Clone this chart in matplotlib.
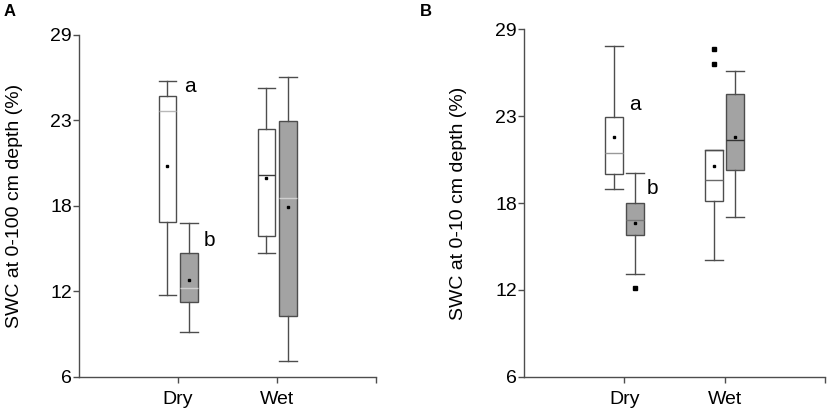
import numpy as np
import matplotlib
matplotlib.use("Agg")
import matplotlib.pyplot as plt

plt.rcParams['font.family'] = ['Liberation Sans', 'DejaVu Sans']

categories = ["Dry", "Wet"]
ytick_labels = ["6", "12", "18", "23", "29"]

# Panel A: SWC 0-100 cm  (order: whislo, q1, med, q3, whishi, mean)
a_white = {"Dry": [11.5, 16.4, 23.9, 24.9, 25.9, 20.2],
           "Wet": [14.3, 15.5, 19.55, 22.7, 25.4, 19.35]}
a_gray = {"Dry": [9.0, 11.05, 12.0, 14.3, 16.35, 12.5],
          "Wet": [7.05, 10.1, 18.0, 23.2, 26.2, 17.45]}
a_white_fliers = {"Dry": [], "Wet": []}
a_gray_fliers = {"Dry": [], "Wet": []}

# Panel B: SWC 0-10 cm
b_white = {"Dry": [18.4, 19.45, 20.8, 23.2, 27.9, 21.9],
           "Wet": [13.7, 17.65, 19.0, 21.0, 21.0, 19.95]}
b_gray = {"Dry": [12.8, 15.35, 16.35, 17.5, 19.5, 16.15],
          "Wet": [16.55, 19.7, 21.65, 24.7, 26.25, 21.9]}
b_white_fliers = {"Dry": [], "Wet": [27.7, 26.7]}
b_gray_fliers = {"Dry": [11.85], "Wet": []}

letters_a = [("a", 1.12, 25.5), ("b", 1.32, 15.2)]
letters_b = [("a", 1.11, 24.0), ("b", 1.28, 18.45)]

# median line colours (white boxes, gray boxes) per category
med_a = (["#b8b8b8", "#3a3a3a"], ["#cfcfcf", "#cfcfcf"])
med_b = (["#999999", "#6a6a6a"], ["#777777", "#333333"])

EDGE = "#4d4d4d"


def stats(d, fl):
    out = []
    for c in categories:
        lo, q1, med, q3, hi, mean = d[c]
        out.append(dict(whislo=lo, q1=q1, med=med, q3=q3, whishi=hi,
                        mean=mean, fliers=fl[c], label=c))
    return out


def draw(ax, white, gray, wf, gf, letters, ylabel, medcols):
    base = np.arange(1, len(categories) + 1)
    w = 0.18
    for st, off, fc, medc in [(stats(white, wf), -0.107, "white", medcols[0]),
                              (stats(gray, gf), 0.107, "#a3a3a3", medcols[1])]:
        res = ax.bxp(st, positions=base + off, widths=w, showmeans=True,
                     patch_artist=True, showfliers=True,
                     boxprops=dict(facecolor=fc, edgecolor=EDGE, linewidth=1.0),
                     whiskerprops=dict(color=EDGE, linewidth=1.0),
                     capprops=dict(color=EDGE, linewidth=1.0),
                     capwidths=w,
                     medianprops=dict(color="#888888", linewidth=1.0),
                     meanprops=dict(marker="s", markersize=2.0,
                                    markerfacecolor="black",
                                    markeredgecolor="black"),
                     flierprops=dict(marker="s", markersize=3.0,
                                     markerfacecolor="black",
                                     markeredgecolor="black",
                                     linestyle="none"))
        for line, col in zip(res["medians"], medc):
            line.set_color(col)
    for t, x, y in letters:
        ax.text(x, y, t, fontsize=15, ha="center", va="center")
    ax.set_xlim(0, 3)
    ax.set_ylim(6, 29)
    ax.set_yticks(np.linspace(6, 29, 5))
    ax.set_yticklabels(ytick_labels)
    ax.set_xticks([1, 2, 3])
    ax.set_xticklabels(categories + [""])
    ax.spines["top"].set_visible(False)
    ax.spines["right"].set_visible(False)
    for s in ["left", "bottom"]:
        ax.spines[s].set_color(EDGE)
        ax.spines[s].set_linewidth(1.0)
    ax.tick_params(axis="both", color=EDGE, length=4, width=1.0,
                   labelsize=14)
    ax.tick_params(axis="x", pad=6)
    ax.tick_params(axis="y", pad=1)
    ax.set_ylabel(ylabel, fontsize=14)


fig = plt.figure(figsize=(8.29, 4.13), dpi=100)
axA = fig.add_axes([0.0953, 0.0879, 0.3583, 0.8274])
axB = fig.add_axes([0.632, 0.0879, 0.3632, 0.841])

draw(axA, a_white, a_gray, a_white_fliers, a_gray_fliers, letters_a,
     "SWC at 0-100 cm depth (%)", med_a)
draw(axB, b_white, b_gray, b_white_fliers, b_gray_fliers, letters_b,
     "SWC at 0-10 cm depth (%)", med_b)
axA.yaxis.set_label_coords(-0.19, 0.5)
axB.yaxis.set_label_coords(-0.19, 0.5)

fig.text(0.004, 0.99, "A", fontsize=12, fontweight="bold", va="top")
fig.text(0.506, 0.99, "B", fontsize=12, fontweight="bold", va="top")

fig.savefig("out.png", dpi=100)
